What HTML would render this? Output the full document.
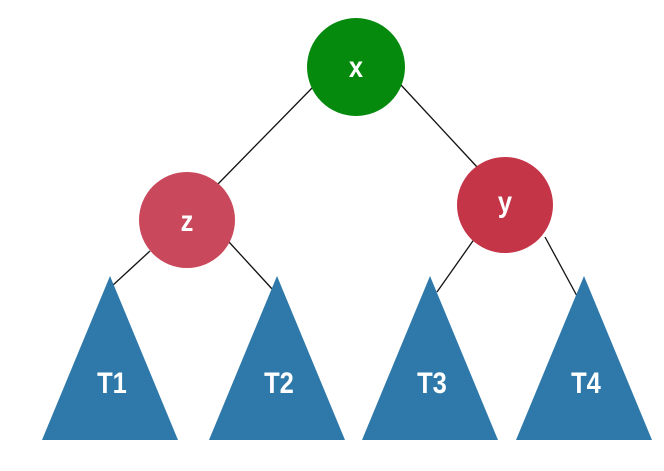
<!DOCTYPE html>
<html><head><style>body{margin:0;background:#fff}svg{display:block}</style></head>
<body>
<svg width="664" height="471" viewBox="0 0 664 471" xmlns="http://www.w3.org/2000/svg">
<g stroke="#111" stroke-width="1.3">
<line x1="313" y1="87" x2="217" y2="185"/>
<line x1="401" y1="85" x2="478" y2="168"/>
<line x1="150" y1="251" x2="112" y2="286"/>
<line x1="229" y1="242" x2="273" y2="290"/>
<line x1="475" y1="238" x2="437" y2="292"/>
<line x1="545" y1="237" x2="577" y2="296"/>
</g>
<circle cx="356" cy="67" r="49" fill="#058a0e"/>
<circle cx="187" cy="220" r="48" fill="#c9485b"/>
<circle cx="505" cy="205" r="48" fill="#c53548"/>
<g fill="#2e79a9">
<polygon points="110,276 42,440 178,440"/>
<polygon points="277,276 209,440 345,440"/>
<polygon points="430,276 362,440 498,440"/>
<polygon points="584,276 516,440 652,440"/>
</g>
<g fill="#fff" font-family="Liberation Sans, sans-serif" font-weight="bold" font-size="30" text-anchor="middle">
<text x="356" y="77" transform="translate(356 0) scale(0.85 1) translate(-356 0)">x</text>
<text x="187" y="231" transform="translate(187 0) scale(0.85 1) translate(-187 0)">z</text>
<text x="505" y="212" transform="translate(505 0) scale(0.85 1) translate(-505 0)">y</text>
<text x="112" y="393" transform="translate(112 0) scale(0.85 1) translate(-112 0)">T1</text>
<text x="279" y="393" transform="translate(279 0) scale(0.85 1) translate(-279 0)">T2</text>
<text x="432" y="393" transform="translate(432 0) scale(0.85 1) translate(-432 0)">T3</text>
<text x="586" y="393" transform="translate(586 0) scale(0.85 1) translate(-586 0)">T4</text>
</g>
</svg>
</body></html>
